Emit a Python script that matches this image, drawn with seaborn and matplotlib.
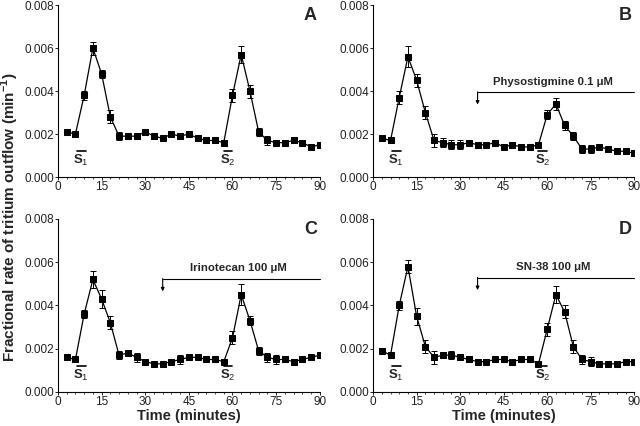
import matplotlib
matplotlib.use("Agg")
import matplotlib.pyplot as plt
import seaborn as sns
import numpy as np
import pandas as pd
from matplotlib.ticker import MultipleLocator, FormatStrFormatter

time = [3, 6, 9, 12, 15, 18, 21, 24, 27, 30, 33, 36, 39, 42, 45, 48, 51, 54, 57, 60,
        63, 66, 69, 72, 75, 78, 81, 84, 87, 90]

# panel A - control
a_mean = [0.0021, 0.0020, 0.0038, 0.0060, 0.0048, 0.0028, 0.0019, 0.0019, 0.0019, 0.0021,
          0.0019, 0.0018, 0.0020, 0.0019, 0.0020, 0.0018, 0.0017, 0.0017, 0.0016, 0.0038,
          0.0057, 0.0040, 0.0021, 0.0017, 0.0016, 0.0016, 0.0017, 0.0016, 0.0014, 0.0015]
a_err = [0.0001, 0.0001, 0.0002, 0.0003, 0.0002, 0.0003, 0.0002, 0.0001, 0.0001, 0.0001,
         0.0001, 0.0001, 0.0001, 0.0001, 0.0001, 0.0001, 0.0001, 0.0001, 0.0001, 0.0003,
         0.0004, 0.0003, 0.0002, 0.0002, 0.0001, 0.0001, 0.0001, 0.0001, 0.0001, 0.0001]

# panel B - physostigmine
b_mean = [0.0018, 0.0017, 0.0037, 0.0056, 0.0045, 0.0030, 0.0017, 0.0016, 0.0015, 0.0015,
          0.0016, 0.0015, 0.0015, 0.0016, 0.0014, 0.0015, 0.0014, 0.0014, 0.0015, 0.0029,
          0.0034, 0.0024, 0.0019, 0.0013, 0.0013, 0.0014, 0.0013, 0.0012, 0.0012, 0.0011]
b_err = [0.0001, 0.0001, 0.0003, 0.0005, 0.0003, 0.0003, 0.0003, 0.0002, 0.0002, 0.0002,
         0.0001, 0.0001, 0.0001, 0.0001, 0.0001, 0.0001, 0.0001, 0.0001, 0.0001, 0.0002,
         0.0003, 0.0002, 0.0002, 0.0002, 0.0002, 0.0001, 0.0001, 0.0001, 0.0001, 0.0001]

# panel C - irinotecan
c_mean = [0.0016, 0.0015, 0.0036, 0.0052, 0.0043, 0.0032, 0.0017, 0.0018, 0.0016, 0.0014,
          0.0013, 0.0013, 0.0014, 0.0015, 0.0016, 0.0016, 0.0015, 0.0015, 0.0014, 0.0025,
          0.0045, 0.0033, 0.0019, 0.0016, 0.0015, 0.0015, 0.0014, 0.0015, 0.0016, 0.0017]
c_err = [0.0001, 0.0001, 0.0002, 0.0004, 0.0004, 0.0003, 0.0002, 0.0001, 0.0002, 0.0001,
         0.0001, 0.0001, 0.0001, 0.0002, 0.0001, 0.0001, 0.0001, 0.0001, 0.0001, 0.0003,
         0.0005, 0.0002, 0.0002, 0.0002, 0.0002, 0.0001, 0.0001, 0.0001, 0.0001, 0.0001]

# panel D - SN-38
d_mean = [0.0019, 0.0017, 0.0040, 0.0058, 0.0035, 0.0021, 0.0016, 0.0017, 0.0017, 0.0016,
          0.0015, 0.0014, 0.0014, 0.0015, 0.0015, 0.0014, 0.0015, 0.0015, 0.0013, 0.0029,
          0.0045, 0.0037, 0.0021, 0.0015, 0.0014, 0.0013, 0.0013, 0.0013, 0.0014, 0.0014]
d_err = [0.0001, 0.0001, 0.0002, 0.0003, 0.0004, 0.0003, 0.0003, 0.0001, 0.0002, 0.0001,
         0.0001, 0.0001, 0.0001, 0.0001, 0.0001, 0.0001, 0.0001, 0.0001, 0.0001, 0.0003,
         0.0004, 0.0003, 0.0003, 0.0002, 0.0002, 0.0001, 0.0001, 0.0001, 0.0001, 0.0001]

letters = ['A', 'B', 'C', 'D']
drug_labels = [None, 'Physostigmine 0.1 \u03bcM', 'Irinotecan 100 \u03bcM', 'SN-38 100 \u03bcM']
drug_line_y = [None, 0.00395, 0.00523, 0.00529]
drug_start = 36
stim_bars = [(6.5, 9.5, 'S$_1$'), (57, 60, 'S$_2$')]

sns.set_theme(style='ticks')
plt.rcParams['font.family'] = ['Liberation Sans', 'DejaVu Sans']
plt.rcParams['mathtext.fontset'] = 'custom'
plt.rcParams['mathtext.rm'] = 'Liberation Sans'
plt.rcParams['mathtext.bf'] = 'Liberation Sans:bold'

fig = plt.figure(figsize=(6.4, 4.26), dpi=100)
rects = [(0.0906, 0.5845, 0.409, 0.4035),
         (0.583, 0.5845, 0.408, 0.4035),
         (0.0906, 0.080, 0.409, 0.406),
         (0.583, 0.080, 0.408, 0.406)]

means = [a_mean, b_mean, c_mean, d_mean]
errs = [a_err, b_err, c_err, d_err]

for i in range(4):
    ax = fig.add_axes(rects[i])
    df = pd.DataFrame({'Time': time, 'Rate': means[i], 'SEM': errs[i]})
    ax.errorbar(df['Time'], df['Rate'], yerr=df['SEM'], fmt='none', ecolor='black',
                elinewidth=0.7, capsize=2, capthick=0.7, zorder=2)
    sns.lineplot(data=df, x='Time', y='Rate', ax=ax, color='black', linewidth=0.9,
                 marker='s', markersize=3.8, markeredgecolor='black', zorder=3)

    ax.set_xlim(0, 90)
    ax.set_ylim(0, 0.008)
    ax.xaxis.set_major_locator(MultipleLocator(15))
    ax.xaxis.set_minor_locator(MultipleLocator(3))
    ax.yaxis.set_major_locator(MultipleLocator(0.002))
    ax.yaxis.set_major_formatter(FormatStrFormatter('%.3f'))
    ax.tick_params(axis='both', which='major', labelsize=8.5, length=2, width=0.7, pad=0.8,
                   colors='#222222')
    ax.tick_params(axis='x', which='minor', length=1.5, width=0.6)
    for s in ['top', 'right']:
        ax.spines[s].set_visible(False)
    for s in ['left', 'bottom']:
        ax.spines[s].set_linewidth(0.8)
        ax.spines[s].set_color('black')
    ax.set_xlabel('')
    ax.set_ylabel('')

    ax.text(89, 0.0075, letters[i], ha='right', va='center', fontsize=13, fontweight='bold')

    for x0, x1, lab in stim_bars:
        ax.plot([x0, x1], [0.00122, 0.00122], color='black', linewidth=1.2)
        ax.text((x0 + x1) / 2, 0.00078, lab, ha='center', va='center',
                fontsize=9.5, fontweight='bold')

    if drug_labels[i]:
        yl = drug_line_y[i]
        ax.plot([drug_start, 90], [yl, yl], color='black', linewidth=0.8, clip_on=False)
        ax.annotate('', xy=(drug_start, yl - 0.00058), xytext=(drug_start, yl + 0.00001),
                    arrowprops=dict(arrowstyle='-|>', color='black', lw=0.8,
                                    mutation_scale=5, shrinkA=0, shrinkB=0))
        ax.text(62, yl + 0.00025, drug_labels[i], ha='center', va='bottom',
                fontsize=8.2, fontweight='bold')

    if i >= 2:
        ax.set_xlabel('Time (minutes)', fontsize=10.5, fontweight='bold', labelpad=1)

fig.text(0.016, 0.49, 'Fractional rate of tritium outflow (min$^{\\mathbf{-1}}$)',
         rotation=90, ha='center', va='center', fontsize=11, fontweight='bold')

fig.savefig('out.png', dpi=100)
